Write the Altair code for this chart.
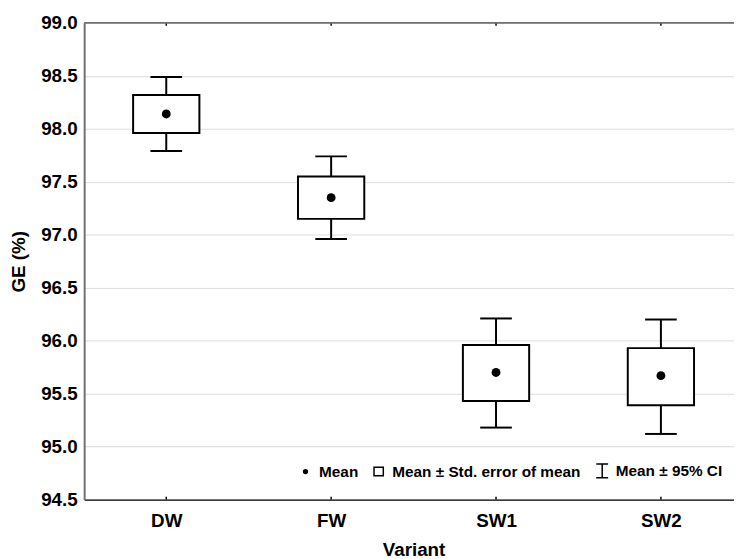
import altair as alt
import pandas as pd

variants = ["DW", "FW", "SW1", "SW2"]
means = [98.14, 97.35, 95.70, 95.67]
se_low = [97.96, 97.15, 95.43, 95.39]
se_high = [98.32, 97.55, 95.96, 95.93]
ci_low = [97.79, 96.96, 95.18, 95.12]
ci_high = [98.49, 97.74, 96.21, 96.20]
y_ticks = [94.5, 95.0, 95.5, 96.0, 96.5, 97.0, 97.5, 98.0, 98.5, 99.0]
legend_labels = ["Mean", "Mean \u00b1 Std. error of mean", "Mean \u00b1 95% CI"]

df = pd.DataFrame({
    "variant": variants,
    "mean": means,
    "se_low": se_low,
    "se_high": se_high,
    "ci_low": ci_low,
    "ci_high": ci_high,
})

FONT = "Liberation Sans"
W, H = 657, 482

x_scale = alt.Scale(type="point", domain=variants, padding=0.4706, align=0.529)
y_scale = alt.Scale(domain=[y_ticks[0], y_ticks[-1]], nice=False, zero=False)

x_axis = alt.Axis(
    title="Variant", labelAngle=0, ticks=False, grid=False,
    domainColor="black", domainWidth=1.5, labelPadding=12,
    titleX=333, titleY=57, titleBaseline="alphabetic",
)
y_axis = alt.Axis(
    title="GE (%)", values=y_ticks, format=".1f", ticks=False, grid=True,
    gridColor="#dcdcdc", gridWidth=1, domainColor="#707070", domainWidth=2,
    labelPadding=7, titlePadding=12,
)

base = alt.Chart(df).encode(x=alt.X("variant:N", scale=x_scale, axis=x_axis))

whisker = base.mark_rule(color="black", strokeWidth=2).encode(
    y=alt.Y("ci_low:Q", scale=y_scale, axis=y_axis), y2="ci_high:Q"
)
cap_low = base.mark_tick(color="black", size=32, thickness=2, opacity=1).encode(y="ci_low:Q")
cap_high = base.mark_tick(color="black", size=32, thickness=2, opacity=1).encode(y="ci_high:Q")
box = base.mark_bar(width=67, fill="white", stroke="black", strokeWidth=2).encode(
    y="se_low:Q", y2="se_high:Q"
)
dot = base.mark_circle(size=80, color="black", opacity=1).encode(y="mean:Q")

tick_bottom = base.mark_rule(color="black", strokeWidth=1.5).encode(
    y=alt.datum(y_ticks[0]), y2=alt.datum(y_ticks[0] + 0.028)
)
tick_top = base.mark_rule(color="black", strokeWidth=1.5).encode(
    y=alt.datum(y_ticks[-1]), y2=alt.datum(y_ticks[-1] - 0.028)
)
top_border = alt.Chart(pd.DataFrame({"top": [y_ticks[-1]]})).mark_rule(
    color="#707070", strokeWidth=2
).encode(y="top:Q")

dot_path = "M-0.32,0A0.32,0.32,0,1,1,0.32,0A0.32,0.32,0,1,1,-0.32,0Z"
square_path = "M-0.78,-0.72L0.78,-0.72L0.78,0.72L-0.78,0.72Z"
ci_path = "M-1,-1.15L1,-1.15M0,-1.15L0,1.15M-1,1.15L1,1.15"

leg = alt.Legend(
    title=None, orient="none", legendX=216, legendY=445, direction="horizontal",
    labelFont=FONT, labelFontSize=15.5, labelFontWeight="bold", labelColor="black",
    labelOffset=6, columnPadding=12, symbolSize=144, symbolStrokeWidth=1.5,
    symbolOpacity=1, padding=0, labelLimit=400,
)
legend_df = pd.DataFrame({"item": legend_labels})
legend_layer = alt.Chart(legend_df).transform_filter("false").mark_point(
    size=144, strokeWidth=1.5, opacity=1
).encode(
    shape=alt.Shape("item:N", scale=alt.Scale(domain=legend_labels, range=[dot_path, square_path, ci_path]), legend=leg),
    fill=alt.Fill("item:N", scale=alt.Scale(domain=legend_labels, range=["black", "white", "transparent"]), legend=leg),
    stroke=alt.Stroke("item:N", scale=alt.Scale(domain=legend_labels, range=["black", "black", "black"]), legend=leg),
)

chart = alt.layer(
    whisker, cap_low, cap_high, box, dot, tick_bottom, tick_top, top_border, legend_layer
).properties(
    width=W, height=H,
    autosize=alt.AutoSizeParams(type="none"),
    padding={"left": 77, "top": 12, "right": 0, "bottom": 58},
    background="white",
).configure_view(stroke=None).configure_axis(
    labelFont=FONT, labelFontSize=19, labelFontWeight="bold", labelColor="black",
    titleFont=FONT, titleFontSize=19, titleFontWeight="bold", titleColor="black",
)

chart.save("out.html", embed_options={"renderer": "svg", "actions": False})
